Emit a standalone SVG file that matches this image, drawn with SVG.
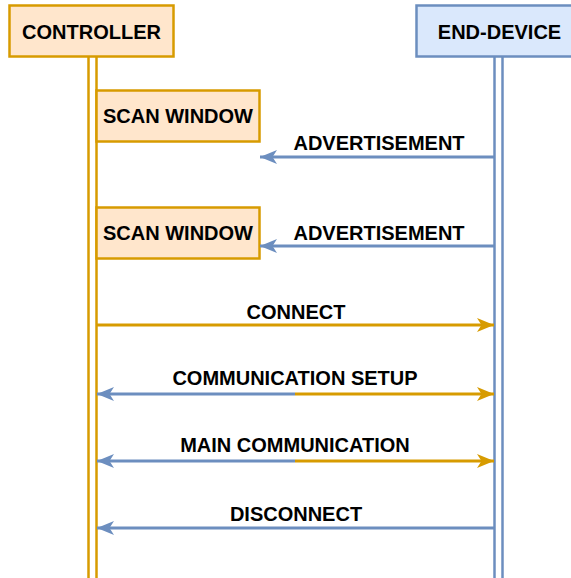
<svg xmlns="http://www.w3.org/2000/svg" width="571" height="578" viewBox="0 0 571 578">
<style>
.t{font-family:"Liberation Sans",Arial,sans-serif;font-weight:bold;font-size:20px;fill:#000;text-anchor:middle}
.o{fill:#ffe6cc;stroke:#d79b00;stroke-width:2.5}
.b{fill:#dae8fc;stroke:#6c8ebf;stroke-width:2.5}
.lo{stroke:#d79b00;stroke-width:2.5;fill:none}
.lb{stroke:#6c8ebf;stroke-width:2.5;fill:none}
.co{stroke:#d79b00;stroke-width:3;fill:none}
.cb{stroke:#6c8ebf;stroke-width:3;fill:none}
</style>
<defs>
<marker id="ab" markerUnits="userSpaceOnUse" viewBox="0 0 18 14" refX="17" refY="7" markerWidth="18" markerHeight="14" orient="auto">
<path d="M0,0 L17,7 L0,14 L4.5,7 z" fill="#6c8ebf"/>
</marker>
<marker id="ao" markerUnits="userSpaceOnUse" viewBox="0 0 18 14" refX="17" refY="7" markerWidth="18" markerHeight="14" orient="auto">
<path d="M0,0 L17,7 L0,14 L4.5,7 z" fill="#d79b00"/>
</marker>
</defs>
<rect width="571" height="578" fill="#fff"/>
<g id="controller">
<line class="lo" x1="88.5" y1="57" x2="88.5" y2="578"/>
<line class="lo" x1="96.5" y1="57" x2="96.5" y2="578"/>
<rect class="o" x="9.5" y="5.5" width="164" height="51"/>
<text class="t" x="91.5" y="39">CONTROLLER</text>
</g>
<g id="end-device">
<line class="lb" x1="494.5" y1="57" x2="494.5" y2="578"/>
<line class="lb" x1="502.5" y1="57" x2="502.5" y2="578"/>
<rect class="b" x="416.5" y="5.5" width="164" height="51"/>
<text class="t" x="499.5" y="39">END-DEVICE</text>
</g>
<g id="scan-window-1">
<rect class="o" x="96.5" y="90.5" width="163" height="51"/>
<text class="t" x="178" y="123">SCAN WINDOW</text>
</g>
<g id="scan-window-2">
<rect class="o" x="96.5" y="207.5" width="163" height="51"/>
<text class="t" x="178" y="240">SCAN WINDOW</text>
</g>
<g id="connectors">
<line class="cb" x1="494" y1="157" x2="260" y2="157" marker-end="url(#ab)"/>
<text class="t" x="379" y="150">ADVERTISEMENT</text>
<line class="cb" x1="494" y1="246" x2="260" y2="246" marker-end="url(#ab)"/>
<text class="t" x="379" y="240">ADVERTISEMENT</text>
<line class="co" x1="97" y1="325" x2="494" y2="325" marker-end="url(#ao)"/>
<text class="t" x="296" y="319">CONNECT</text>
<line class="cb" x1="295" y1="394" x2="97" y2="394" marker-end="url(#ab)"/>
<line class="co" x1="295" y1="394" x2="494" y2="394" marker-end="url(#ao)"/>
<text class="t" x="295" y="385">COMMUNICATION SETUP</text>
<line class="cb" x1="295" y1="461" x2="97" y2="461" marker-end="url(#ab)"/>
<line class="co" x1="295" y1="461" x2="494" y2="461" marker-end="url(#ao)"/>
<text class="t" x="295" y="452">MAIN COMMUNICATION</text>
<line class="cb" x1="494" y1="528" x2="97" y2="528" marker-end="url(#ab)"/>
<text class="t" x="296" y="521">DISCONNECT</text>
</g>
</svg>
